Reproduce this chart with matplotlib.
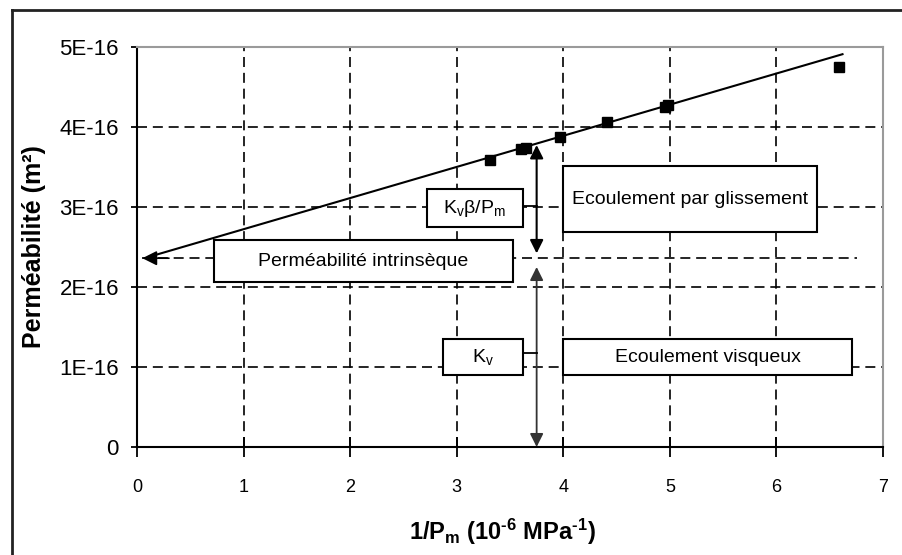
import matplotlib
matplotlib.use("Agg")
import matplotlib.pyplot as plt
from matplotlib.lines import Line2D
from matplotlib.patches import Rectangle

plt.rcParams['font.family'] = ['Liberation Sans', 'DejaVu Sans']
plt.rcParams['mathtext.default'] = 'regular'

# measured permeability vs inverse mean pressure
inv_pm = [3.31, 3.60, 3.65, 3.97, 4.41, 4.95, 4.98, 6.59]
perm = [3.59e-16, 3.73e-16, 3.74e-16, 3.875e-16, 4.06e-16, 4.25e-16, 4.27e-16, 4.75e-16]

# Klinkenberg fit line (extrapolated to 1/Pm -> 0)
fit_x = [0.12, 6.62]
fit_y = [2.38e-16, 4.91e-16]

k_intrinsic = 2.36e-16
intrinsic_x = [0.05, 6.76]
arrow_x = 3.75
k_at_arrow = 3.775e-16

xticks = [0, 1, 2, 3, 4, 5, 6, 7]
yticks = [0, 1e-16, 2e-16, 3e-16, 4e-16, 5e-16]
ytick_labels = ['0', '1E-16', '2E-16', '3E-16', '4E-16', '5E-16']

fig = plt.figure(figsize=(9.02, 5.55), dpi=100)
ax = fig.add_axes([137 / 902, 1 - 447 / 555, 746 / 902, 400 / 555])

ax.set_xlim(0, 7)
ax.set_ylim(0, 5e-16)
ax.set_xticks(xticks)
ax.set_yticks(yticks)
ax.set_yticklabels(ytick_labels)

# grid
dash = (0, (6, 3.5))
for x in xticks[1:-1]:
    ax.axvline(x, color='black', lw=1.2, ls=dash, zorder=0.5)
for y in yticks[1:-1]:
    ax.axhline(y, color='black', lw=1.2, ls=dash, zorder=0.5)

for side in ['top', 'right']:
    ax.spines[side].set_color('#9a9a9a')
    ax.spines[side].set_linewidth(1.5)
for side in ['left', 'bottom']:
    ax.spines[side].set_color('black')
    ax.spines[side].set_linewidth(1.5)

ax.tick_params(axis='x', direction='inout', length=14, width=1.3, pad=16, labelsize=13)
ax.tick_params(axis='y', direction='out', length=4, width=1.3, pad=9, labelsize=16)

# data + fit
ax.plot(fit_x, fit_y, color='black', lw=1.5, zorder=3)
ax.plot(inv_pm, perm, ls='none', marker='s', ms=7.5, color='black', zorder=4)

# intrinsic permeability (dashed arrow to the y intercept)
ax.plot(intrinsic_x, [k_intrinsic, k_intrinsic], color='black', lw=1.2, ls=dash, zorder=2)
ax.annotate('', xy=(intrinsic_x[0], k_intrinsic), xytext=(intrinsic_x[0] + 0.25, k_intrinsic),
            arrowprops=dict(arrowstyle='-|>', mutation_scale=22, color='black', lw=1.2,
                            shrinkA=0, shrinkB=0), zorder=5)

# vertical decomposition arrows
ax.annotate('', xy=(arrow_x, k_at_arrow), xytext=(arrow_x, k_intrinsic + 0.06e-16),
            arrowprops=dict(arrowstyle='<|-|>', mutation_scale=20, color='black', lw=1.5,
                            shrinkA=0, shrinkB=0), zorder=5)
ax.annotate('', xy=(arrow_x, 0), xytext=(arrow_x, k_intrinsic - 0.11e-16),
            arrowprops=dict(arrowstyle='<|-|>', mutation_scale=20, color='#333333', lw=1.3,
                            shrinkA=0, shrinkB=0), zorder=5)


def box(x0, x1, y0, y1, text):
    ax.add_patch(Rectangle((x0, y0), x1 - x0, y1 - y0, facecolor='white',
                           edgecolor='black', lw=1.5, zorder=6))
    ax.text((x0 + x1) / 2, (y0 + y1) / 2, text, ha='center', va='center',
            fontsize=14, zorder=7)


box(2.72, 3.62, 2.75e-16, 3.225e-16, r'K$_v$β/P$_m$')
box(0.72, 3.53, 2.06e-16, 2.59e-16, 'Perméabilité intrinsèque')
box(4.0, 6.38, 2.69e-16, 3.51e-16, 'Ecoulement par glissement')
box(2.87, 3.62, 0.9e-16, 1.35e-16, r'K$_v$')
box(4.0, 6.71, 0.9e-16, 1.35e-16, 'Ecoulement visqueux')

# connectors from small boxes to the arrow
ax.plot([3.62, arrow_x], [3.01e-16, 3.01e-16], color='black', lw=1.3, zorder=5)
ax.plot([3.62, arrow_x], [1.175e-16, 1.175e-16], color='black', lw=1.3, zorder=5)

ax.set_ylabel('Perméabilité (m²)', fontsize=18, fontweight='bold')
ax.yaxis.set_label_coords(-0.122, 0.5)
ax.set_xlabel('1/P$_m$ (10$^{\u20106}$ MPa$^{\u20101}$)', fontsize=17, fontweight='bold')
ax.xaxis.set_label_coords(0.49, -0.175)

# outer frame (cropped)
fig.add_artist(Line2D([12 / 902, 12 / 902], [0, 1 - 10 / 555], color='#222222', lw=2))
fig.add_artist(Line2D([12 / 902, 1], [1 - 10 / 555, 1 - 10 / 555], color='#222222', lw=2))

fig.savefig('out.png', dpi=100)
